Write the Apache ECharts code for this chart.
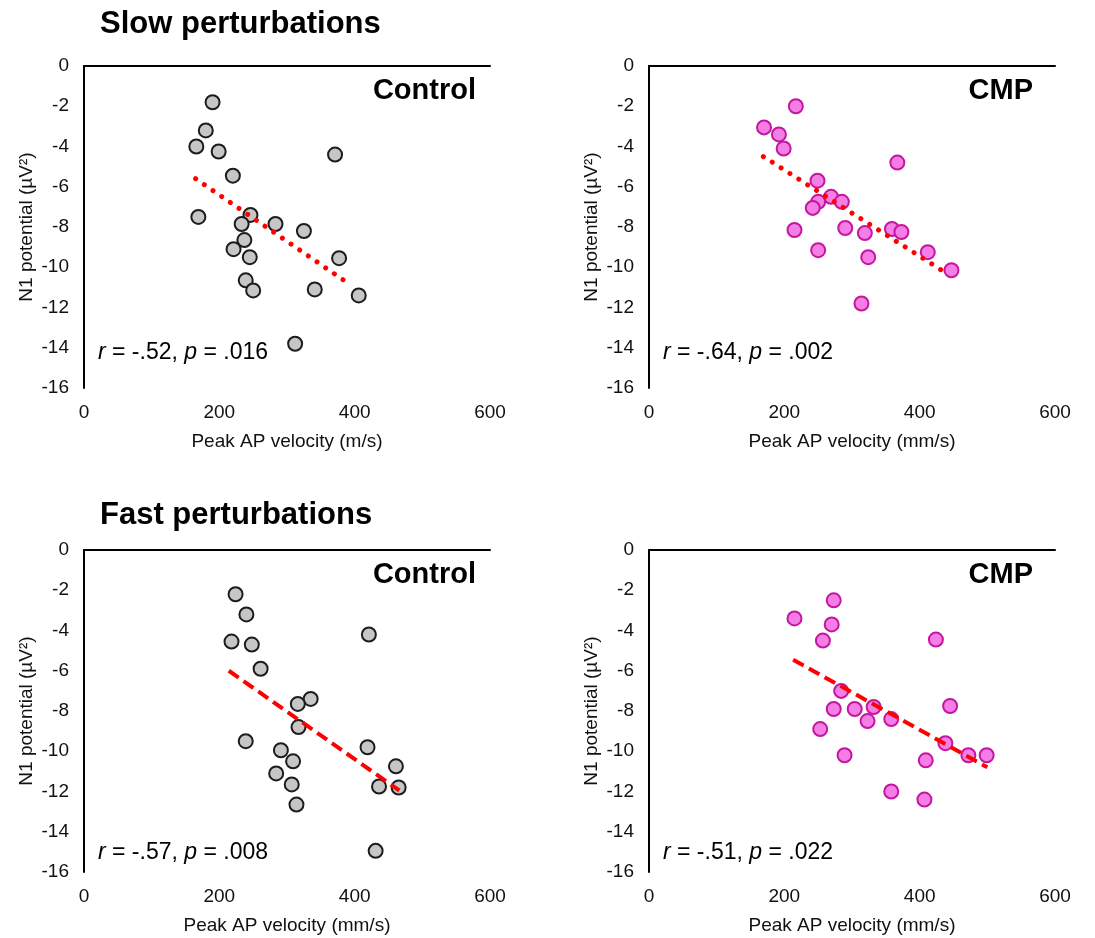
<!DOCTYPE html>
<html>
<head>
<meta charset="utf-8">
<script src="https://cdn.jsdelivr.net/npm/echarts@6/dist/echarts.min.js"></script>
<style>
  html, body { margin: 0; padding: 0; background: #fff; }
  #chart { width: 1095px; height: 938px; }
</style>
</head>
<body>
<div id="chart"></div>
<script>
// values: [velocity, N1 potential]
const slowControl = [
  [190, -1.8], [180, -3.2], [166, -4.0], [199, -4.25], [371, -4.4],
  [220, -5.45], [169, -7.5], [246, -7.4], [233, -7.85], [283, -7.85],
  [325, -8.2], [237, -8.65], [221, -9.1], [245, -9.5], [377, -9.55],
  [239, -10.65], [250, -11.15], [341, -11.1], [406, -11.4], [312, -13.8]
];
const slowControlFit = [[165, -5.6], [395, -10.9]];

const slowCmp = [
  [217, -2.0], [170, -3.05], [192, -3.4], [199, -4.1], [367, -4.8],
  [249, -5.7], [269, -6.5], [285, -6.75], [250, -6.75], [242, -7.05],
  [215, -8.15], [290, -8.05], [319, -8.3], [359, -8.1], [373, -8.25],
  [250, -9.15], [324, -9.5], [412, -9.25], [447, -10.15], [314, -11.8]
];
const slowCmpFit = [[169, -4.5], [435, -10.2]];

const fastControl = [
  [224, -2.2], [240, -3.2], [218, -4.55], [248, -4.7], [421, -4.2],
  [261, -5.9], [335, -7.4], [316, -7.65], [317, -8.8], [239, -9.5],
  [419, -9.8], [291, -9.95], [309, -10.5], [461, -10.75], [284, -11.1],
  [307, -11.65], [436, -11.75], [465, -11.8], [314, -12.65], [431, -14.95]
];
const fastControlFit = [[214, -6.0], [466, -11.95]];

const fastCmp = [
  [215, -3.4], [273, -2.5], [270, -3.7], [257, -4.5], [424, -4.45],
  [284, -7.0], [273, -7.9], [304, -7.9], [332, -7.8], [323, -8.5],
  [358, -8.4], [445, -7.75], [253, -8.9], [438, -9.6], [289, -10.2],
  [472, -10.2], [499, -10.2], [409, -10.45], [358, -12.0], [407, -12.4]
];
const fastCmpFit = [[213, -5.45], [500, -10.8]];

const xName = ['Peak AP velocity (m/s)', 'Peak AP velocity (mm/s)', 'Peak AP velocity (mm/s)', 'Peak AP velocity (mm/s)'];
const yName = 'N1 potential (µV²)';
const groupLabels = ['Control', 'CMP', 'Control', 'CMP'];
const stats = [['-.52', '.016'], ['-.64', '.002'], ['-.57', '.008'], ['-.51', '.022']];

const FONT = 'Liberation Sans, Arial, sans-serif';

const chart = echarts.init(document.getElementById('chart'));

const panels = [
  { left: 84, top: 66, pts: slowControl, fit: slowControlFit, gray: true, dash: 'dot', labRight: 14, statTop: 341 },
  { left: 649, top: 66, pts: slowCmp, fit: slowCmpFit, gray: false, dash: 'dot', labRight: 22, statTop: 341 },
  { left: 84, top: 550, pts: fastControl, fit: fastControlFit, gray: true, dash: 'dash', labRight: 14, statTop: 841 },
  { left: 649, top: 550, pts: fastCmp, fit: fastCmpFit, gray: false, dash: 'dash', labRight: 22, statTop: 841 }
];
const W = 406, H = 322;

const grid = [], xAxis = [], yAxis = [], series = [], graphic = [];

panels.forEach((p, i) => {
  grid.push({ left: p.left, top: p.top, width: W, height: H });

  // bottom axis: labels only
  xAxis.push({
    gridIndex: i, type: 'value', min: 0, max: 600, interval: 200, position: 'bottom',
    axisLine: { show: false }, axisTick: { show: false }, splitLine: { show: false },
    axisLabel: { fontSize: 19, color: '#111', fontFamily: FONT, margin: 15 },
    name: xName[i], nameLocation: 'middle', nameGap: 44,
    nameTextStyle: { fontSize: 19, color: '#111', fontFamily: FONT }
  });
  // top axis: the line at y = 0
  xAxis.push({
    gridIndex: i, type: 'value', min: 0, max: 600, position: 'top',
    axisLine: { show: true, lineStyle: { color: '#000', width: 2 } },
    axisTick: { show: false }, axisLabel: { show: false }, splitLine: { show: false }
  });

  yAxis.push({
    gridIndex: i, type: 'value', min: -16, max: 0, interval: 2,
    axisLine: { show: true, lineStyle: { color: '#000', width: 2 } },
    axisTick: { show: false }, splitLine: { show: false },
    axisLabel: { fontSize: 19, color: '#111', fontFamily: FONT, margin: 15 },
    name: yName, nameLocation: 'middle', nameGap: 48, nameRotate: 90,
    nameTextStyle: { fontSize: 19, color: '#111', fontFamily: FONT }
  });

  series.push({
    type: 'scatter', xAxisIndex: i * 2, yAxisIndex: i, data: p.pts,
    symbol: 'circle', symbolSize: 14,
    itemStyle: p.gray
      ? { color: '#c6c6c6', borderColor: '#1c1c1c', borderWidth: 2, opacity: 1 }
      : { color: '#f47ee6', borderColor: '#c4169f', borderWidth: 2, opacity: 1 },
    z: 2
  });

  series.push({
    type: 'line', xAxisIndex: i * 2, yAxisIndex: i, data: p.fit,
    symbol: 'none', silent: true,
    lineStyle: p.dash === 'dot'
      ? { color: '#ff0000', width: 5, type: [0.01, 10.5], cap: 'round' }
      : { color: '#ff0000', width: 4, type: [12, 6] },
    z: 3
  });

  graphic.push({
    type: 'text', right: 1095 - (p.left + W) + p.labRight, top: p.top + 10,
    style: { text: groupLabels[i], fontSize: 29, fontWeight: 'bold', fill: '#000', fontFamily: FONT }
  });

  graphic.push({
    type: 'text', left: p.left + 14, top: p.statTop,
    style: {
      text: '{i|r} = ' + stats[i][0] + ', {i|p} = ' + stats[i][1],
      fontSize: 23, fill: '#000', fontFamily: FONT,
      rich: { i: { fontStyle: 'italic', fontSize: 23, fontFamily: FONT, fill: '#000' } }
    }
  });
});

graphic.push({
  type: 'text', left: 100, top: 9,
  style: { text: 'Slow perturbations', fontSize: 31, fontWeight: 'bold', fill: '#000', fontFamily: FONT }
});
graphic.push({
  type: 'text', left: 100, top: 500,
  style: { text: 'Fast perturbations', fontSize: 31, fontWeight: 'bold', fill: '#000', fontFamily: FONT }
});

chart.setOption({
  animation: false,
  backgroundColor: '#fff',
  grid, xAxis, yAxis, series, graphic
});
</script>
</body>
</html>
